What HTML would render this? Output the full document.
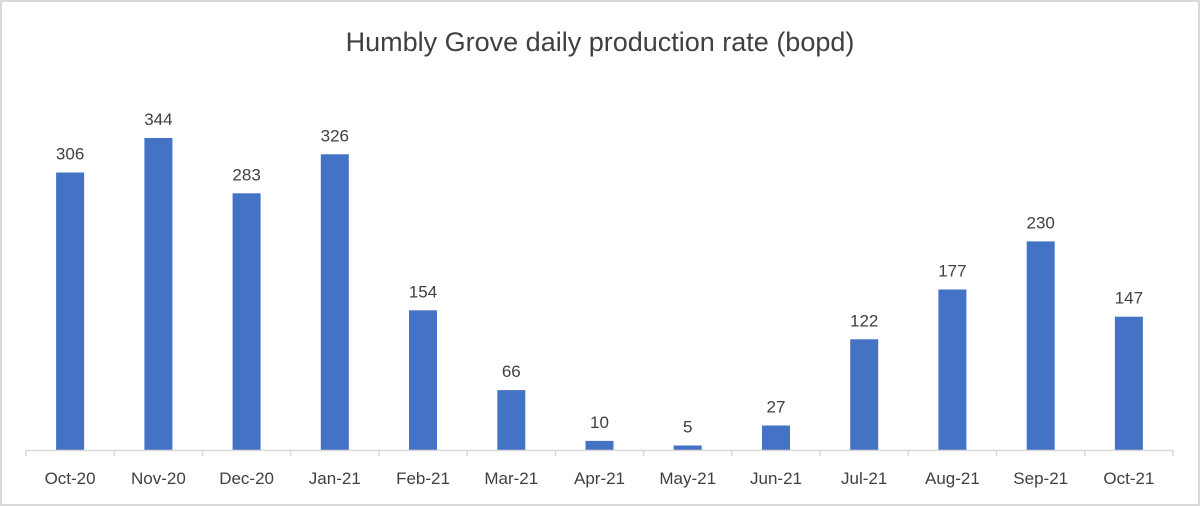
<!DOCTYPE html>
<html><head><style>
body{margin:0;background:#fff}
svg{display:block}
text{font-family:"Liberation Sans",sans-serif;fill:#404040}
</style></head><body>
<svg width="1200" height="506" xmlns="http://www.w3.org/2000/svg">
<rect x="1" y="1" width="1198" height="504" fill="#fff" stroke="#d9d9d9" stroke-width="2"/>
<text x="600" y="51" font-size="27" text-anchor="middle" fill="#595959">Humbly Grove daily production rate (bopd)</text>
<g fill="#4472c4">
<rect x="56.1" y="172.5" width="28" height="277.5"/>
<rect x="144.4" y="138" width="28" height="312"/>
<rect x="232.6" y="193.3" width="28" height="256.7"/>
<rect x="320.8" y="154.3" width="28" height="295.7"/>
<rect x="409" y="310.3" width="28" height="139.7"/>
<rect x="497.3" y="390.1" width="28" height="59.9"/>
<rect x="585.5" y="440.9" width="28" height="9.1"/>
<rect x="673.7" y="445.5" width="28" height="4.5"/>
<rect x="762" y="425.5" width="28" height="24.5"/>
<rect x="850.2" y="339.3" width="28" height="110.7"/>
<rect x="938.4" y="289.5" width="28" height="160.5"/>
<rect x="1026.7" y="241.4" width="28" height="208.6"/>
<rect x="1114.9" y="316.7" width="28" height="133.3"/>
</g>
<g font-size="17" text-anchor="middle">
<text x="70.1" y="159.5">306</text>
<text x="158.4" y="125">344</text>
<text x="246.6" y="180.3">283</text>
<text x="334.8" y="141.3">326</text>
<text x="423" y="297.3">154</text>
<text x="511.3" y="377.1">66</text>
<text x="599.5" y="427.9">10</text>
<text x="687.7" y="432.5">5</text>
<text x="776" y="412.5">27</text>
<text x="864.2" y="326.3">122</text>
<text x="952.4" y="276.5">177</text>
<text x="1040.7" y="228.4">230</text>
<text x="1128.9" y="303.7">147</text>
<text x="70.1" y="484">Oct-20</text>
<text x="158.4" y="484">Nov-20</text>
<text x="246.6" y="484">Dec-20</text>
<text x="334.8" y="484">Jan-21</text>
<text x="423" y="484">Feb-21</text>
<text x="511.3" y="484">Mar-21</text>
<text x="599.5" y="484">Apr-21</text>
<text x="687.7" y="484">May-21</text>
<text x="776" y="484">Jun-21</text>
<text x="864.2" y="484">Jul-21</text>
<text x="952.4" y="484">Aug-21</text>
<text x="1040.7" y="484">Sep-21</text>
<text x="1128.9" y="484">Oct-21</text>
</g>
<g stroke="#d9d9d9" stroke-width="1.5">
<line x1="26" y1="450.5" x2="1173" y2="450.5"/>
<line x1="26" y1="450" x2="26" y2="456"/>
<line x1="114.2" y1="450" x2="114.2" y2="456"/>
<line x1="202.5" y1="450" x2="202.5" y2="456"/>
<line x1="290.7" y1="450" x2="290.7" y2="456"/>
<line x1="378.9" y1="450" x2="378.9" y2="456"/>
<line x1="467.2" y1="450" x2="467.2" y2="456"/>
<line x1="555.4" y1="450" x2="555.4" y2="456"/>
<line x1="643.6" y1="450" x2="643.6" y2="456"/>
<line x1="731.8" y1="450" x2="731.8" y2="456"/>
<line x1="820.1" y1="450" x2="820.1" y2="456"/>
<line x1="908.3" y1="450" x2="908.3" y2="456"/>
<line x1="996.5" y1="450" x2="996.5" y2="456"/>
<line x1="1084.8" y1="450" x2="1084.8" y2="456"/>
<line x1="1173" y1="450" x2="1173" y2="456"/>
</g>
</svg>
</body></html>
